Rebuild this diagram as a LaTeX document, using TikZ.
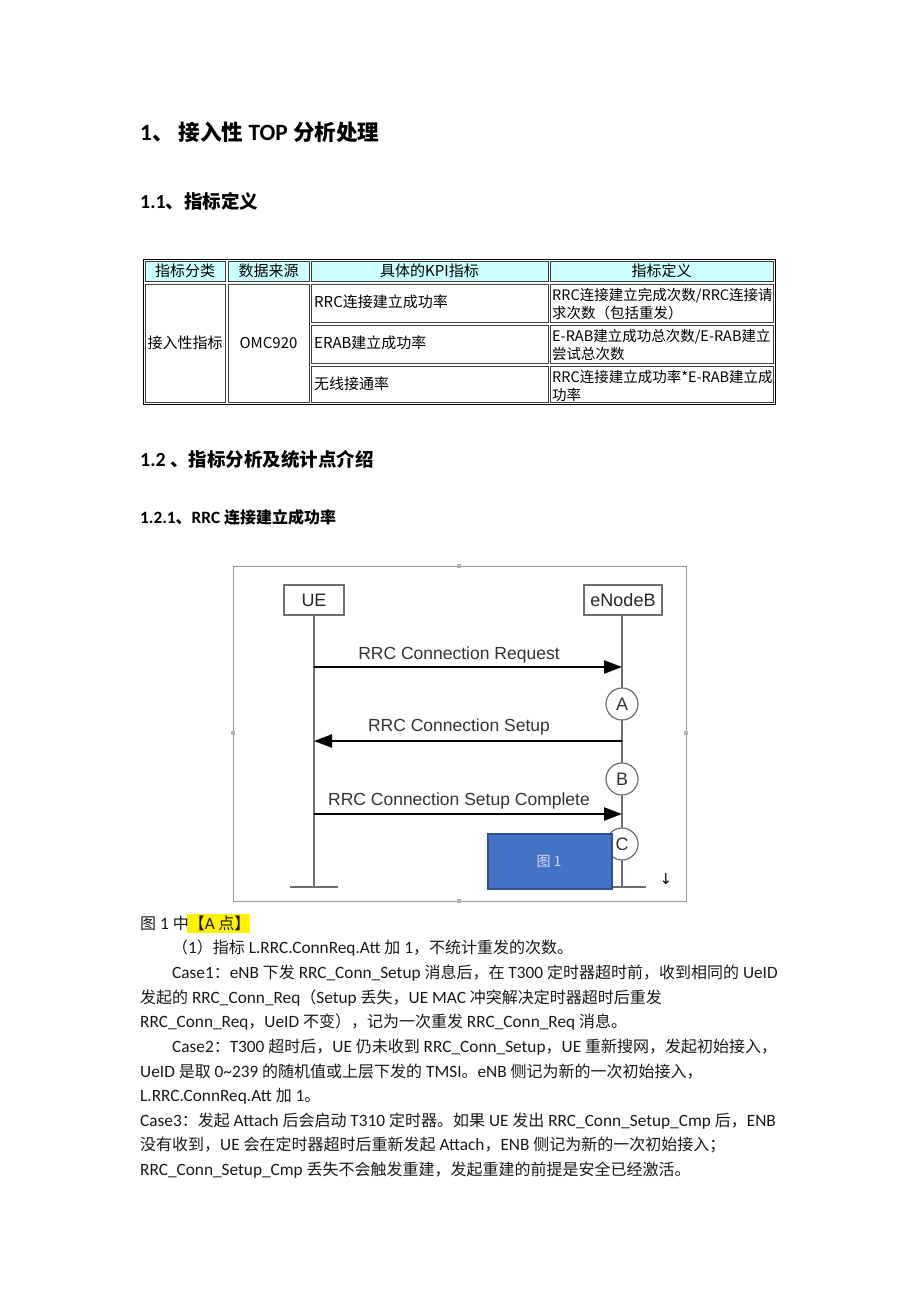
\documentclass[tikz,border=0pt]{standalone}
\usepackage{fontspec}
\setmainfont{Noto Sans CJK SC}
\newfontfamily\arial{Liberation Sans}
\newfontfamily\dejavu{DejaVu Sans}
\newfontfamily\carlito[Scale=1.08]{Carlito}
\newcommand\la[1]{{\carlito #1}}
\usetikzlibrary{arrows.meta}
\definecolor{hdrcyan}{RGB}{204,255,255}
\definecolor{boxblue}{RGB}{68,114,196}
\definecolor{boxedge}{RGB}{47,82,143}
\definecolor{lifegray}{RGB}{110,110,110}
\begin{document}
\begin{tikzpicture}[x=1pt,y=-1pt,
  txt/.style={inner sep=0pt,anchor=base west,text=black},
  hone/.style={txt,font=\fontsize{21.6}{26}\selectfont\bfseries},
  htwo/.style={txt,font=\fontsize{18.5}{22}\selectfont\bfseries},
  hthree/.style={txt,font=\fontsize{16}{20}\selectfont\bfseries},
  body/.style={txt,font=\fontsize{16}{20}\selectfont,text=black!90},
  cell/.style={draw=black!75,line width=0.9pt},
  hcell/.style={cell,fill=hdrcyan},
  ctext/.style={inner sep=0pt,font=\fontsize{15}{18}\selectfont},
  dtext/.style={inner sep=0pt,anchor=base west,font=\fontsize{14.5}{17}\selectfont},
  party/.style={draw=lifegray,line width=1.3pt,fill=white,inner sep=0pt,font=\arial\fontsize{18}{20}\selectfont,text=black!85},
  life/.style={draw=lifegray,line width=1.3pt},
  msg/.style={draw=black,line width=2.3pt,-{Triangle[length=18pt,width=13pt]}},
  mlabel/.style={inner sep=0pt,font=\arial\fontsize{17.5}{20}\selectfont,text=black!80},
  point/.style={circle,draw=lifegray,line width=1.2pt,fill=white,minimum size=32pt,inner sep=0pt,font=\arial\fontsize{18}{20}\selectfont,text=black!80}
]
\useasboundingbox (0,0) rectangle (920,1302);
\fill[white] (0,0) rectangle (920,1302);

% headings
\node[hone] (h1) at (140,140) {\la{1}、 接入性\la{ TOP }分析处理};
\node[htwo] (h11) at (140,208) {\la{1.1}、指标定义};

% table
\draw[black,line width=1pt] (143,259) rectangle (775,404);
\draw[hcell] (145,261) rectangle (225,281);
\draw[hcell] (228,261) rectangle (309,281);
\draw[hcell] (311,261) rectangle (548,281);
\draw[hcell] (550,261) rectangle (773,281);
\draw[cell] (145,284) rectangle (225,402);
\draw[cell] (228,284) rectangle (309,402);
\draw[cell] (311,284) rectangle (548,322);
\draw[cell] (311,325) rectangle (548,363);
\draw[cell] (311,366) rectangle (548,402);
\draw[cell] (550,284) rectangle (773,322);
\draw[cell] (550,325) rectangle (773,363);
\draw[cell] (550,366) rectangle (773,402);
\node[ctext] (t11) at (185,271) {指标分类};
\node[ctext] (t12) at (268.5,271) {数据来源};
\node[ctext] (t13) at (429.5,271) {具体的KPI指标};
\node[ctext] (t14) at (661.5,271) {指标定义};
\node[ctext] (t21) at (185,343) {接入性指标};
\node[ctext] (t22) at (268.5,343) {OMC920};
\node[ctext,anchor=west] (t31) at (314,302) {RRC连接建立成功率};
\node[ctext,anchor=west] (t32) at (314,343) {ERAB建立成功率};
\node[ctext,anchor=west] (t33) at (314,384) {无线接通率};
\node[dtext] (d1a) at (552,300) {RRC连接建立完成次数/RRC连接请};
\node[dtext] (d1b) at (552,318) {求次数（包括重发）};
\node[dtext] (d2a) at (552,341) {E-RAB建立成功总次数/E-RAB建立};
\node[dtext] (d2b) at (552,359) {尝试总次数};
\node[dtext] (d3a) at (552,382) {RRC连接建立成功率*E-RAB建立成};
\node[dtext] (d3b) at (552,400) {功率};

\node[htwo] (h12) at (140,466) {\la{1.2 }、指标分析及统计点介绍};
\node[hthree] (h121) at (140,523) {\la{1.2.1}、\la{RRC }连接建立成功率};

% sequence diagram frame
\draw[black!40,line width=0.8pt] (233,566) rectangle (686,901);
\foreach \p in {(459,566),(233,733),(686,733),(459,901)}
  \fill[black!30] \p ++(-2,-2) rectangle ++(4,4);

\node[party,minimum width=60pt,minimum height=30pt] (ue) at (314,600) {UE};
\node[party,minimum width=78pt,minimum height=30pt] (enb) at (623,600) {eNodeB};
\coordinate (ueend) at (314,887);
\coordinate (enbend) at (622,887);
\draw[life] (ue.south) -- (ueend);
\draw[life] (enb.south -| enbend) -- (enbend);
\draw[life] (290,887) -- (338,887);
\draw[life] (600,887) -- (646,887);

\coordinate (r1a) at (314,667);
\coordinate (r1b) at (622,667);
\coordinate (r2a) at (622,741);
\coordinate (r2b) at (314,741);
\coordinate (r3a) at (314,814);
\coordinate (r3b) at (622,814);
\draw[msg] (r1a) -- (r1b);
\draw[msg] (r2a) -- (r2b);
\draw[msg] (r3a) -- (r3b);
\node[mlabel] (l1) at (459,655) {RRC Connection Request};
\node[mlabel] (l2) at (459,727) {RRC Connection Setup};
\node[mlabel] (l3) at (459,801) {RRC Connection Setup Complete};

\node[point] (pa) at (622,704) {A};
\node[point] (pb) at (622,779) {B};
\node[point] (pc) at (622,844) {C};

\draw[fill=boxblue,draw=boxedge,line width=1.5pt] (488,834) rectangle (612,889);
\node[inner sep=0pt,font=\fontsize{14}{16}\selectfont,text=white!85!blue] (fig) at (549,861) {图 1};
\node[inner sep=0pt,font=\dejavu\fontsize{15}{16}\selectfont,text=black] (pm) at (666,879) {↓};

% body text
\fill[yellow] (187,914) rectangle (250,933);
\node[body] (c0) at (140,929) {图\la{ 1 }中【\la{A} 点】};
\node[body] (c1) at (172,953) {（\la{1}）指标\la{ L.RRC.ConnReq.Att }加\la{ 1}，不统计重发的次数。};
\node[body] (c2) at (172,978) {\la{Case1}：\la{eNB }下发\la{ RRC\_Conn\_Setup }消息后，在\la{ T300 }定时器超时前，收到相同的\la{ UeID}};
\node[body] (c3) at (140,1003) {发起的\la{ RRC\_Conn\_Req}（\la{Setup }丢失，\la{UE MAC }冲突解决定时器超时后重发};
\node[body] (c4) at (140,1027) {\la{RRC\_Conn\_Req}，\la{UeID }不变），记为一次重发\la{ RRC\_Conn\_Req }消息。};
\node[body] (c5) at (172,1052) {\la{Case2}：\la{T300 }超时后，\la{UE }仍未收到\la{ RRC\_Conn\_Setup}，\la{UE }重新搜网，发起初始接入，};
\node[body] (c6) at (140,1077) {\la{UeID }是取\la{ 0\textasciitilde 239 }的随机值或上层下发的\la{ TMSI}。\la{eNB }侧记为新的一次初始接入，};
\node[body] (c7) at (140,1101) {\la{L.RRC.ConnReq.Att }加\la{ 1}。};
\node[body] (c8) at (140,1126) {\la{Case3}：发起\la{ Attach }后会启动\la{ T310 }定时器。如果\la{ UE }发出\la{ RRC\_Conn\_Setup\_Cmp }后，\la{ENB}};
\node[body] (c9) at (140,1150) {没有收到，\la{UE }会在定时器超时后重新发起\la{ Attach}，\la{ENB }侧记为新的一次初始接入；};
\node[body] (c10) at (140,1175) {\la{RRC\_Conn\_Setup\_Cmp }丢失不会触发重建，发起重建的前提是安全已经激活。};
\end{tikzpicture}
\end{document}
